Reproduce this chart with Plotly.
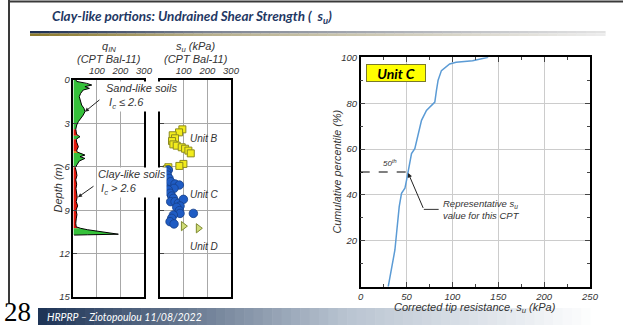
import numpy as np
import plotly.graph_objects as go

W, H = 623, 328
def px(x): return x / W
def py(y): return 1 - y / H

# ---------------- data ----------------
# q_IN profile (CPT Bal-11): depth (m), q_IN, soil class (S sand-like, C clay-like, T transition)
q_depth = [0, 0.1, 0.23, 0.35, 0.46, 0.58, 0.69, 0.92, 1.15, 1.38, 1.73, 1.96, 2.19, 2.42, 2.65, 2.88, 3.11, 3.25,
           3.4, 3.57, 3.75, 3.85, 3.92, 4.0, 4.1, 4.3, 4.5, 4.61, 4.8, 4.9, 4.98,
           5.05, 5.19, 5.3, 5.42, 5.6, 5.77, 5.9, 5.95,
           6.05, 6.3, 6.6, 6.9, 7.2, 7.5, 7.8, 8.1, 8.4, 8.7, 9.0, 9.3, 9.6, 9.9, 10.15,
           10.25, 10.35, 10.45, 10.55, 10.62, 10.66, 10.7, 10.72]
q_in = [11, 14, 56, 78, 49, 68, 42, 31, 25, 28, 35, 45, 49, 42, 31, 21, 14, 11,
        10, 12, 13, 22, 28, 20, 12, 14, 18, 21, 16, 14, 16,
        30, 49, 28, 49, 25, 18, 12, 10,
        8, 12, 15, 10, 14, 11, 13, 16, 12, 18, 11, 15, 12, 10, 12,
        30, 60, 100, 150, 175, 191, 60, 3]
q_soil = ['S'] * 18 + ['C'] * 3 + ['S'] * 3 + ['C'] * 5 + ['T'] * 2 + ['S'] * 7 + ['T'] + ['C'] * 15 + ['S'] * 8

# s_u profile (CPT Bal-11)
unitB_su = [94.5, 80.5, 53.7, 63.6, 50.8, 56.5, 70.6, 91.8, 106, 120, 130, 98.9, 81.8, 35.3, 28]
unitB_depth = [3.41, 3.62, 3.82, 4.03, 4.22, 4.45, 4.54, 4.65, 4.75, 4.88, 5.07, 5.8, 5.94, 6.03, 6.17]
unitC_su = [35.3, 28, 31, 38.1, 39.5, 45.2, 63.6, 81.9, 59.3, 35.3, 42.4, 49.4, 56.5, 45.2, 63.6, 77.7, 98.9,
            84.7, 70.6, 81.9, 84.7, 141, 56.5, 49.4, 42.4, 59.3]
unitC_depth = [6.22, 6.34, 6.57, 6.8, 7.14, 7.03, 7.19, 7.26, 7.49, 7.6, 7.83, 8.02, 8.18, 8.41, 8.41, 8.52, 8.25,
               8.71, 8.8, 9.03, 9.22, 9.22, 9.33, 9.56, 9.79, 9.95]
unitD_su = [98.9, 162]
unitD_depth = [10.1, 10.25]

# Unit C cumulative distribution
cdf_su = [30, 31.9, 35.5, 37.3, 39.1, 40.2, 42, 44.5, 48.2, 50, 51.7, 53.6, 55.4, 59, 62.6, 66.3, 71.7, 79,
          80.8, 82.6, 84.4, 88, 93.5, 97, 104, 122, 139]
cdf_pct = [0, 4.4, 11.6, 16, 23.3, 27.6, 34.9, 40.7, 42.9, 46.5, 50, 53.6, 58, 60.2, 66, 72.5, 76.8, 79.8,
           80.5, 85.6, 90, 94.2, 95.9, 97.1, 97.8, 98.5, 100]

depth_ticks = [0, 3, 6, 9, 12, 15]
q_ticks = [100, 200, 300]
x3_ticks = [0, 50, 100, 150, 200, 250]
y3_ticks = [20, 40, 60, 80, 100]

soil_colors = {'S': '#35c13a', 'C': '#e3170a', 'T': '#d98a1c'}

fig = go.Figure()

# ---- panel 1: filled q_IN profile by soil class ----
runs = []
start = 0
for i in range(1, len(q_soil) + 1):
    if i == len(q_soil) or q_soil[i] != q_soil[start]:
        runs.append((start, i))
        start = i
for a, b in runs:
    end = min(b, len(q_depth) - 1)
    d = q_depth[a:end + 1]
    q = q_in[a:end + 1]
    fig.add_trace(go.Scatter(x=[0] + q + [0], y=[d[0]] + d + [d[-1]], mode='lines', fill='toself',
                             fillcolor=soil_colors[q_soil[a]], line=dict(width=0), hoverinfo='skip',
                             showlegend=False, xaxis='x', yaxis='y'))
fig.add_trace(go.Scatter(x=q_in, y=q_depth, mode='lines', line=dict(color='black', width=1),
                         showlegend=False, xaxis='x', yaxis='y'))

# ---- panel 2: s_u points ----
fig.add_trace(go.Scatter(x=unitB_su, y=unitB_depth, mode='markers', xaxis='x2', yaxis='y2', showlegend=False,
                         marker=dict(symbol='square', size=7, color='#f2ec1c', line=dict(color='#8c8a20', width=1))))
fig.add_trace(go.Scatter(x=unitC_su, y=unitC_depth, mode='markers', xaxis='x2', yaxis='y2', showlegend=False,
                         marker=dict(symbol='circle', size=8.5, color='#1f5cc4', line=dict(color='#173f86', width=0.8))))
fig.add_trace(go.Scatter(x=unitD_su, y=unitD_depth, mode='markers', xaxis='x2', yaxis='y2', showlegend=False,
                         marker=dict(symbol='triangle-right', size=8, color='#cfdc78', line=dict(color='#7f8a30', width=1))))

# ---- panel 3: CDF ----
fig.add_trace(go.Scatter(x=cdf_su, y=cdf_pct, mode='lines', xaxis='x3', yaxis='y3', showlegend=False,
                         line=dict(color='#5b9bd5', width=1.5)))
su50 = float(np.interp(50, cdf_pct, cdf_su))

ital = dict(family='Liberation Sans', size=9.5, color='#333333', style='italic')
ax_common = dict(showline=True, linecolor='black', linewidth=1.5, mirror=True, zeroline=False, automargin=False,
                 showgrid=True, gridcolor='#a8a8a8', gridwidth=1, tickfont=ital)

fig.update_layout(
    width=W, height=H, margin=dict(l=0, r=0, t=0, b=0, autoexpand=False), paper_bgcolor='white',
    plot_bgcolor='white',
    xaxis=dict(ax_common, domain=[px(73.4), px(144)], range=[0, 300], side='top', tickvals=q_ticks,
               ticks='', anchor='y'),
    yaxis=dict(ax_common, domain=[py(297), py(80)], range=[15, 0], tickvals=depth_ticks, ticks='inside',
               ticklen=4, anchor='x'),
    xaxis2=dict(ax_common, domain=[px(160), px(231)], range=[0, 300], side='top', tickvals=q_ticks,
                ticks='', anchor='y2'),
    yaxis2=dict(ax_common, domain=[py(297), py(80)], range=[15, 0], tickvals=depth_ticks, ticks='inside',
                ticklen=4, showticklabels=False, anchor='x2'),
    xaxis3=dict(ax_common, domain=[px(360.7), px(590)], range=[0, 250], tickvals=x3_ticks, ticks='inside',
                ticklen=5, mirror='ticks', gridcolor='#cccccc', anchor='y3',
                minor=dict(ticks='inside', ticklen=3, dtick=25, showgrid=False)),
    yaxis3=dict(ax_common, domain=[py(286.7), py(57.3)], range=[0, 100], tickvals=y3_ticks, ticks='inside',
                ticklen=5, mirror='ticks', gridcolor='#cccccc', anchor='x3',
                minor=dict(ticks='inside', ticklen=3, dtick=10, showgrid=False)),
)

shapes = []
# slide frame lines
shapes.append(dict(type='line', xref='paper', yref='paper', x0=px(9), x1=px(9), y0=py(0), y1=py(303),
                   line=dict(color='#3a3a3a', width=2)))
shapes.append(dict(type='line', xref='paper', yref='paper', x0=px(9), x1=1, y0=py(1.5), y1=py(1.5),
                   line=dict(color='#3a3a3a', width=2)))

def mix(c1, c2, t):
    a = [int(c1[i:i + 2], 16) for i in (1, 3, 5)]
    b = [int(c2[i:i + 2], 16) for i in (1, 3, 5)]
    return '#%02x%02x%02x' % tuple(round(a[k] + (b[k] - a[k]) * t) for k in range(3))

def gradient(x0, x1, y0, y1, stops, n=60):
    out = []
    for i in range(n):
        t = i / (n - 1)
        for j in range(len(stops) - 1):
            if stops[j][0] <= t <= stops[j + 1][0]:
                tt = (t - stops[j][0]) / (stops[j + 1][0] - stops[j][0])
                col = mix(stops[j][1], stops[j + 1][1], tt)
                break
        xa = x0 + (x1 - x0) * i / n
        xb = x0 + (x1 - x0) * (i + 1) / n + 0.6
        out.append(dict(type='rect', xref='paper', yref='paper', x0=px(xa), x1=px(xb), y0=py(y1), y1=py(y0),
                        line=dict(width=0), fillcolor=col, layer='below'))
    return out

# title underline bar
shapes += gradient(30, 605, 31, 33.5, [(0, '#1d2f52'), (0.3, '#7b8290'), (1, '#e2e2e2')])
shapes += gradient(30, 605, 33.5, 36, [(0, '#8d7a2c'), (0.3, '#b6ae8a'), (1, '#ececec')])
# footer bar
shapes += gradient(38, 600, 308, 325, [(0, '#1f3557'), (0.55, '#b9c4d1'), (0.85, '#e6eaef'), (1, '#ffffff')])

# dashed 50th percentile line
shapes.append(dict(type='line', xref='x3', yref='y3', x0=0, x1=su50, y0=50, y1=50,
                   line=dict(color='black', width=1.2, dash='dash')))
# leader for representative value
shapes.append(dict(type='line', xref='x3', yref='y3', x0=68.8, x1=85, y0=33.7, y1=33.7,
                   line=dict(color='#333333', width=1)))
fig.update_layout(shapes=shapes)

ann = []
def note(x, y, text, font, xanchor='center', **kw):
    d = dict(xref='paper', yref='paper', x=px(x), y=py(y), xanchor=xanchor, yanchor='middle',
             showarrow=False, text=text, font=font)
    d.update(kw)
    ann.append(d)

# title
note(50, 17, 'Clay-like portions: Undrained Shear Strength (  s<sub>u</sub>)',
     dict(family='Lato', size=13.5, color='#1f3864', weight='bold', style='italic'), xanchor='left')
# footer
note(3, 312, '28', dict(family='Liberation Serif', size=27, color='black'), xanchor='left', borderpad=0)
note(45, 316.5, 'HRPRP – Ziotopoulou 11/08/2022', dict(family='Lato', size=10.5, color='white', style='italic'),
     xanchor='left')

lbl = dict(family='Liberation Sans', size=11, color='#333333', style='italic')
# panel headers
note(108.7, 47, 'q<sub>IN</sub>', lbl)
note(108.7, 59, '(CPT Bal-11)', lbl)
note(195.5, 47, 's<sub>u</sub> (kPa)', lbl)
note(195.5, 59, '(CPT Bal-11)', lbl)
note(57, 188.5, 'Depth (m)', dict(lbl, size=11), textangle=-90)
# soil annotations
note(105, 97, 'Sand-like soils<br> I<sub>c</sub> ≤ 2.6', lbl, xanchor='left', align='left', bgcolor='white', borderpad=0)
ann.append(dict(xref='x', yref='y', x=49, y=2.19, ax=16, ay=-13, showarrow=True, arrowhead=2, arrowsize=0.8,
                arrowwidth=1, arrowcolor='#222222', text=''))
note(97, 182, 'Clay-like soils<br> I<sub>c</sub> > 2.6', lbl, xanchor='left', align='left', bgcolor='white', borderpad=0)
ann.append(dict(xref='x', yref='y', x=19.6, y=8.1, ax=17, ay=-12, showarrow=True, arrowhead=2, arrowsize=0.8,
                arrowwidth=1, arrowcolor='#222222', text=''))
# unit labels
for name, d in [('Unit B', 4.03), ('Unit C', 7.9), ('Unit D', 11.5)]:
    ann.append(dict(xref='x2', yref='y2', x=186, y=d, xanchor='center', yanchor='middle', showarrow=False,
                    text=name, font=dict(lbl, size=10)))
# panel 3 annotations
ann.append(dict(xref='x3', yref='y3', x=38.7, y=93.2, xanchor='center', yanchor='middle', showarrow=False,
                text='<i>Unit C</i>', width=56, height=14,
                bgcolor='#ffff00', bordercolor='#7a7a2a', borderwidth=1, borderpad=1,
                font=dict(family='Lato', size=14, color='black', weight='bold')))
ann.append(dict(xref='x3', yref='y3', x=32, y=54, xanchor='center', yanchor='middle', showarrow=False,
                text='50<sup>th</sup>', font=dict(lbl, size=8)))
ann.append(dict(xref='x3', yref='y3', x=su50, y=49.6, ax=68.8, ay=33.7, axref='x3', ayref='y3', showarrow=True,
                arrowhead=2, arrowsize=0.9, arrowwidth=1, arrowcolor='#222222', text=''))
ann.append(dict(xref='x3', yref='y3', x=88, y=33.5, xanchor='left', yanchor='middle', showarrow=False, align='left',
                text='Representative s<sub>u</sub><br>value for this CPT', font=dict(lbl, size=9.5)))
note(475.4, 308, 'Corrected tip resistance, s<sub>u</sub> (kPa)', dict(lbl, size=11))
note(336.5, 172, 'Cumulative percentile (%)', dict(lbl, size=10.8), textangle=-90)
fig.update_layout(annotations=ann)

fig.write_html("out.html", config={'displayModeBar': False},
               post_script="document.body.style.margin='0';document.body.style.overflow='hidden';")
